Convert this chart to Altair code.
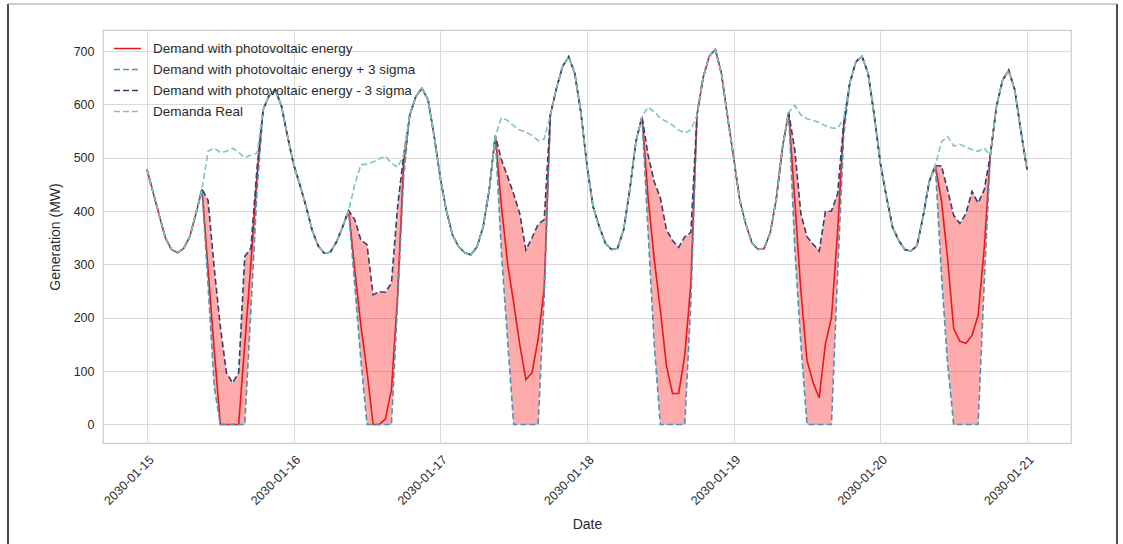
import altair as alt
import pandas as pd

# ---------------- data ----------------
DAY_TICKS = ["2030-01-15", "2030-01-16", "2030-01-17", "2030-01-18",
             "2030-01-19", "2030-01-20", "2030-01-21"]

SERIES = ["Demand with photovoltaic energy",
          "Demand with photovoltaic energy + 3 sigma",
          "Demand with photovoltaic energy - 3 sigma",
          "Demanda Real"]
COLORS = ["#e8191c", "#4b94b2", "#33416f", "#80c6b8"]
DASHES = [[1, 0], [6, 3], [6, 3], [6, 3]]

# Demanda Real, hourly values h0..h23 for each day
real_d1 = [478, 435, 392, 350, 328, 322, 330, 352, 395, 441, 512, 518, 510, 512, 518, 510, 500, 505, 508, 590, 617, 627, 597, 540]
real_d2 = [487, 450, 410, 365, 335, 321, 323, 342, 370, 401, 450, 487, 488, 492, 498, 503, 490, 482, 505, 580, 615, 630, 608, 540]
real_d3 = [462, 400, 355, 333, 322, 318, 333, 370, 440, 541, 575, 570, 560, 552, 548, 542, 532, 535, 580, 630, 671, 689, 658, 585]
real_d4 = [485, 408, 371, 340, 328, 330, 365, 440, 530, 577, 595, 586, 574, 568, 561, 552, 546, 552, 580, 650, 690, 703, 658, 577]
real_d5 = [500, 420, 375, 340, 328, 330, 360, 425, 520, 585, 598, 580, 573, 570, 566, 560, 556, 555, 573, 640, 680, 690, 658, 580]
real_d6 = [490, 427, 370, 345, 328, 325, 335, 390, 455, 485, 530, 540, 522, 525, 520, 515, 512, 518, 505, 596, 645, 664, 627, 550]
real_end = [478]

# daytime hours 10..18, where the photovoltaic series leave Demanda Real
pv_d1 = [290, 140, 0, 0, 0, 0, 150, 302, 465]
pv_d2 = [290, 185, 100, 0, 0, 10, 65, 240, 490]
pv_d3 = [409, 302, 228, 150, 84, 97, 160, 255, 580]
pv_d4 = [425, 310, 215, 110, 58, 58, 130, 265, 580]
pv_d5 = [420, 250, 120, 78, 50, 150, 200, 360, 560]
pv_d6 = [420, 312, 180, 156, 152, 167, 205, 330, 505]

plus_d1 = [260, 70, 0, 0, 0, 0, 0, 214, 436]
plus_d2 = [260, 120, 0, 0, 0, 0, 0, 227, 465]
plus_d3 = [321, 159, 0, 0, 0, 0, 0, 240, 580]
plus_d4 = [360, 150, 0, 0, 0, 0, 0, 230, 580]
plus_d5 = [330, 150, 0, 0, 0, 0, 0, 280, 540]
plus_d6 = [280, 115, 0, 0, 0, 0, 0, 265, 505]

minus_d1 = [420, 293, 184, 97, 78, 97, 315, 331, 480]
minus_d2 = [384, 346, 337, 243, 249, 248, 265, 408, 505]
minus_d3 = [496, 465, 432, 395, 327, 350, 375, 384, 580]
minus_d4 = [505, 455, 425, 365, 345, 332, 352, 360, 580]
minus_d5 = [515, 395, 352, 338, 325, 399, 400, 432, 565]
minus_d6 = [485, 440, 392, 377, 395, 437, 415, 440, 505]

REAL_DAYS = [real_d1, real_d2, real_d3, real_d4, real_d5, real_d6]


def build(daytime):
    out = []
    for real, day in zip(REAL_DAYS, daytime):
        vals = list(real)
        vals[10:19] = day
        out += vals
    return out + real_end


real = build([d[10:19] for d in REAL_DAYS])
pv = build([pv_d1, pv_d2, pv_d3, pv_d4, pv_d5, pv_d6])
plus = build([plus_d1, plus_d2, plus_d3, plus_d4, plus_d5, plus_d6])
minus = build([minus_d1, minus_d2, minus_d3, minus_d4, minus_d5, minus_d6])

dates = pd.date_range("2030-01-15 00:00", periods=len(real), freq="h")
wide = pd.DataFrame({"date": dates, "pv": pv, "plus": plus, "minus": minus, "real": real})

long_parts = []
for name, col in zip(SERIES, ["pv", "plus", "minus", "real"]):
    long_parts.append(pd.DataFrame({"date": dates, "value": wide[col], "series": name}))
long = pd.concat(long_parts, ignore_index=True)

# ---------------- chart ----------------
FONT = "Liberation Sans"
TXT = "#2b2b2b"
Y_DOM = [-34.7, 739.4]

x_dom = [alt.DateTime(year=2030, month=1, date=14, hours=16, minutes=48),
         alt.DateTime(year=2030, month=1, date=21, hours=7, minutes=12)]
x_ticks = [alt.DateTime(year=2030, month=1, date=int(d[-2:])) for d in DAY_TICKS]

x_enc = alt.X("date:T", scale=alt.Scale(domain=x_dom),
              axis=alt.Axis(values=x_ticks, format="%Y-%m-%d", labelAngle=315,
                            labelAlign="right", labelBaseline="top", labelPadding=10,
                            title="Date", titlePadding=10))
y_enc = alt.Y("value:Q", scale=alt.Scale(domain=Y_DOM, nice=False, zero=False),
              axis=alt.Axis(values=[0, 100, 200, 300, 400, 500, 600, 700],
                            title="Generation (MW)", labelPadding=9, titlePadding=11))

leg = alt.Legend(title=None, orient="none", legendX=4, legendY=-2,
                 symbolType="stroke", symbolSize=729, symbolStrokeWidth=1.6,
                 labelFont=FONT, labelFontSize=13.5, labelColor=TXT, labelLimit=500,
                 labelOffset=11, rowPadding=-9.3, padding=6)

band = alt.Chart(wide).mark_area(color="#ff0000", opacity=0.33).encode(
    x=x_enc, y=alt.Y("plus:Q", scale=alt.Scale(domain=Y_DOM, nice=False, zero=False)),
    y2="minus:Q")

lines = alt.Chart(long).mark_line(strokeWidth=1.6).encode(
    x=x_enc, y=y_enc,
    color=alt.Color("series:N", scale=alt.Scale(domain=SERIES, range=COLORS), legend=leg),
    strokeDash=alt.StrokeDash("series:N", scale=alt.Scale(domain=SERIES, range=DASHES), legend=leg),
)

frame = alt.Data(values=[{"k": 1}])
left_border = alt.Chart(frame).mark_rule(color="#111111", strokeWidth=1.5).encode(
    x=alt.value(-95), y=alt.value(-26), y2=alt.value(514))
right_border = alt.Chart(frame).mark_rule(color="#111111", strokeWidth=1.5).encode(
    x=alt.value(1014), y=alt.value(-26), y2=alt.value(514))
top_border = alt.Chart(frame).mark_rule(color="#9a9a9a", strokeWidth=1).encode(
    x=alt.value(-95), x2=alt.value(1014), y=alt.value(-26))

chart = alt.layer(band, lines, left_border, right_border, top_border).properties(
    width=968, height=413,
    autosize=alt.AutoSizeParams(type="none"),
    padding={"left": 103, "top": 30, "right": 52, "bottom": 101},
    background="white",
).configure_view(
    stroke="#cccccc", strokeWidth=1.25
).configure_axis(
    grid=True, gridColor="#d9d9d9", gridWidth=1, ticks=False, domain=False,
    labelFont=FONT, labelFontSize=12.5, labelColor=TXT,
    titleFont=FONT, titleFontSize=14, titleFontWeight="normal", titleColor=TXT,
)

chart.save("out.html", embed_options={"renderer": "svg", "actions": False})
